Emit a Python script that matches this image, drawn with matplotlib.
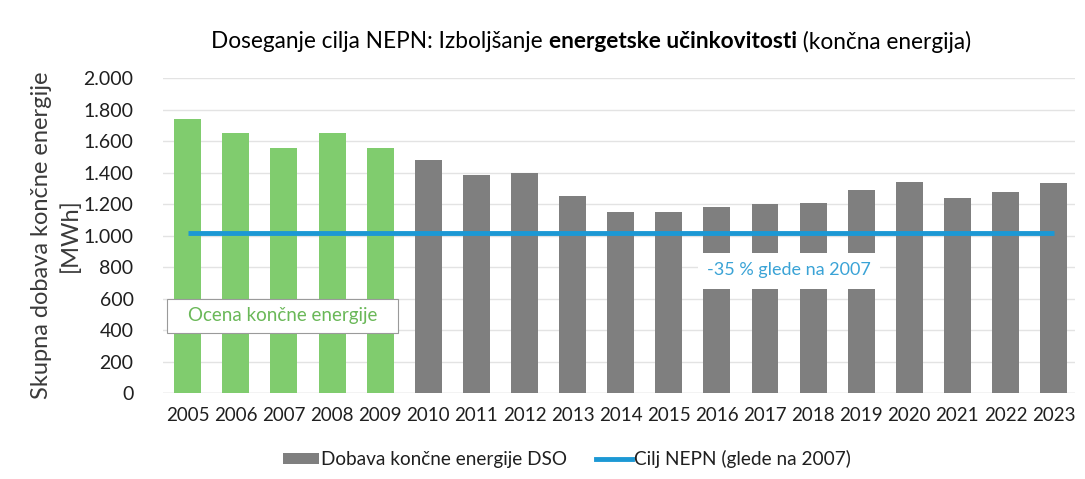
import matplotlib
matplotlib.use("Agg")
import matplotlib.pyplot as plt
from matplotlib.patches import Patch, Rectangle
from matplotlib.lines import Line2D

years = [str(y) for y in range(2005, 2024)]
supply = [1740, 1651, 1556, 1651, 1556, 1479, 1384, 1397, 1251, 1149, 1149,
          1181, 1200, 1206, 1289, 1340, 1238, 1276, 1333]
estimated = [True] * 5 + [False] * 14
target = [1015] * 19
yticks = [0, 200, 400, 600, 800, 1000, 1200, 1400, 1600, 1800, 2000]
ytick_labels = ["0", "200", "400", "600", "800", "1.000", "1.200", "1.400", "1.600", "1.800", "2.000"]

GREEN = "#80cc6e"
GRAY = "#7f7f7f"
BLUE = "#1c98d4"
TXT = "#1f1f1f"

plt.rcParams["font.family"] = ["Lato", "DejaVu Sans"]

fig = plt.figure(figsize=(10.85, 4.79), dpi=100)
ax = fig.add_axes([0.150, 0.1795, 0.841, 0.6575])

x = list(range(len(years)))
colors = [GREEN if e else GRAY for e in estimated]
ax.bar(x, supply, width=0.56, color=colors, zorder=2)
ax.plot(x, target, color=BLUE, lw=3.5, zorder=3, solid_capstyle="butt")

ax.set_xlim(-0.52, 18.45)
ax.set_ylim(0, 2000)
ax.set_yticks(yticks)
ax.set_yticklabels(ytick_labels)
ax.set_xticks(x)
ax.set_xticklabels(years)
ax.tick_params(axis="both", length=0, labelsize=14, colors=TXT)
ax.tick_params(axis="x", pad=10, labelsize=13.5)
ax.tick_params(axis="y", pad=21)
ax.grid(axis="y", color="#e3e3e3", lw=1, zorder=0)
for s in ax.spines.values():
    s.set_visible(False)
ax.axhline(0, color="#d9d9d9", lw=1, zorder=1)

ax.set_ylabel("Skupna dobava končne energije\n[MWh]", fontsize=17, color="#3a3a3a",
              linespacing=1.4)
ax.yaxis.set_label_coords(-0.090, 0.5)

# "-35 %" annotation box
ax.add_patch(Rectangle((10.6, 660), 3.8, 230, facecolor="white", edgecolor="none", zorder=4))
ax.text(12.5, 780, "-35 % glede na 2007", color="#3aa3d6", fontsize=13,
        ha="center", va="center", zorder=5)

# estimate box
ax.add_patch(Rectangle((-0.44, 380), 4.82, 220, facecolor="white", edgecolor="#9a9a9a",
                       lw=0.8, zorder=4))
ax.text(1.97, 490, "Ocena končne energije", color="#6ab858", fontsize=13.5,
        ha="center", va="center", zorder=5)

# title with bold middle part
fig.canvas.draw()
renderer = fig.canvas.get_renderer()
parts = [("Doseganje cilja NEPN: Izboljšanje ", "normal"),
         ("energetske učinkovitosti", "bold"),
         (" (končna energija)", "normal")]
texts = []
for s, w in parts:
    t = fig.text(0, 1 - 42 / 479, s, fontsize=16.3, fontweight=w, color="black",
                 ha="left", va="center")
    texts.append(t)
widths = [t.get_window_extent(renderer).width for t in texts]
total = sum(widths)
cur = 591 - total / 2
for t, w in zip(texts, widths):
    t.set_x(cur / fig.bbox.width)
    cur += w

handles = [Patch(facecolor=GRAY, edgecolor="none"),
           Line2D([0], [0], color=BLUE, lw=3.5)]
fig.legend(handles, ["Dobava končne energije DSO", "Cilj NEPN (glede na 2007)"],
           loc="center", bbox_to_anchor=(567 / 1085, 1 - 459 / 479), ncol=2,
           frameon=False, fontsize=13.7, handlelength=1.9, handleheight=0.5,
           handletextpad=0.1, columnspacing=1.5, labelcolor=TXT)

fig.savefig("out.png", dpi=100)
